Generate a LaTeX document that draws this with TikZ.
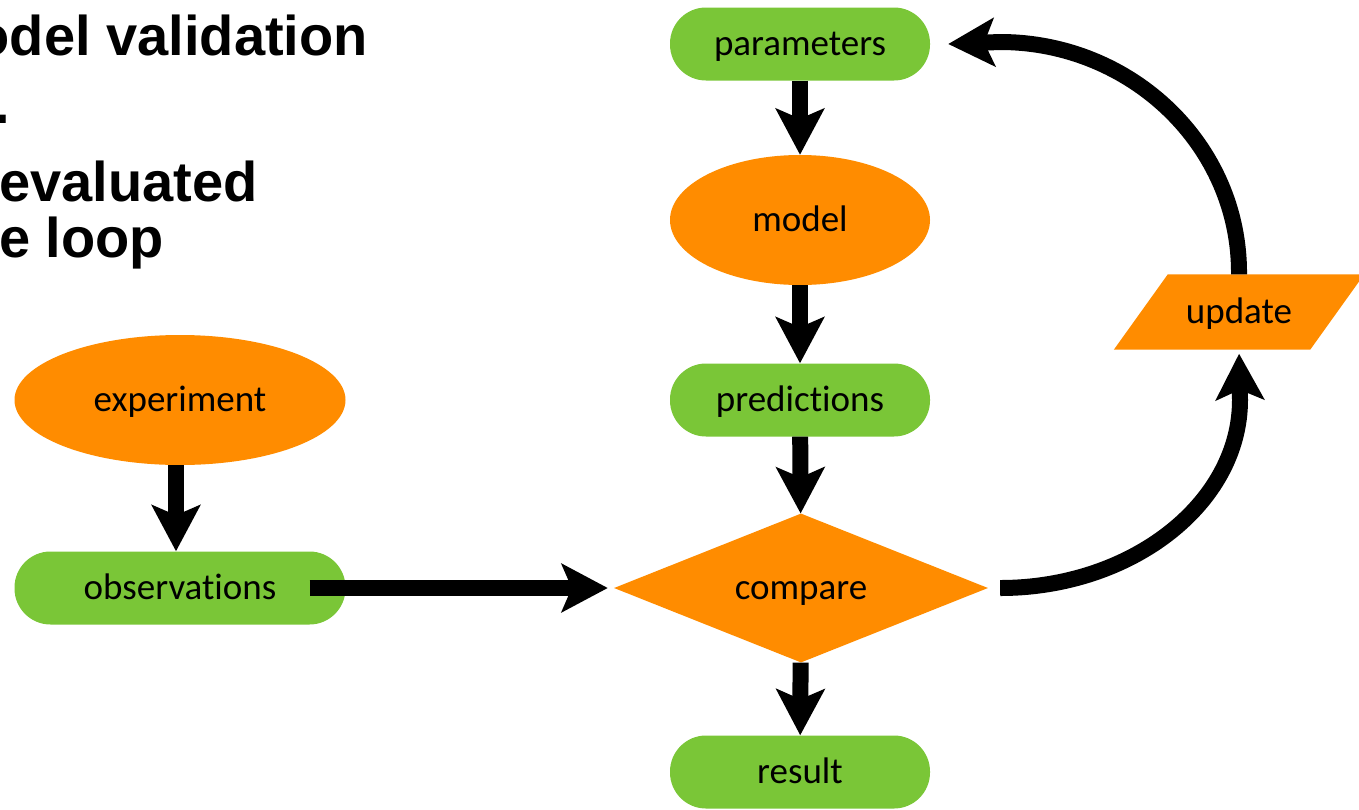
\documentclass[tikz,border=0pt]{standalone}
\usepackage{fontspec}
\setmainfont{Carlito}[RawFeature={-liga}]
\newfontfamily\titlefont{Liberation Sans}
\usetikzlibrary{shapes.geometric, shapes.misc, arrows.meta, backgrounds}
\definecolor{boxgreen}{RGB}{122,198,55}
\definecolor{boxorange}{RGB}{255,140,0}
\tikzset{
  lbl/.style={font=\fontsize{37}{44}\selectfont, text=black, text height=30pt, text depth=8pt},
  pill/.style={lbl, rectangle, rounded corners=36pt, fill=boxgreen, minimum width=260pt, minimum height=73pt, inner sep=0pt},
  oval/.style={lbl, ellipse, fill=boxorange, minimum width=260pt, minimum height=130pt, inner sep=0pt},
  decision/.style={lbl, diamond, fill=boxorange, minimum width=374pt, minimum height=149pt, aspect=2.5, inner sep=0pt},
  iobox/.style={lbl, rectangle, minimum width=196pt, minimum height=75pt, inner sep=0pt},
  flow/.style={line width=16pt, -{Stealth[length=46pt, width=48pt, inset=10pt]}},
  title/.style={font=\titlefont\bfseries\fontsize{56}{60}\selectfont, inner sep=0pt}
}
\begin{document}
\begin{tikzpicture}[x=1pt,y=-1pt]
\useasboundingbox (0,0) rectangle (1359,809);
% title text (cut at the left edge)
\node[title, anchor=base east] (t1) at (368,55) {odel validation};
\node[title, anchor=base west] (t2) at (-6,123) {.};
\node[title, anchor=base west] (t3) at (-1,201) {evaluated};
\node[title, anchor=base west] (t4) at (-1,257) {e loop};
% nodes
\node[pill] (parameters) at (800,44) {parameters};
\node[oval] (model) at (800,220) {model};
\node[pill] (predictions) at (800,400) {predictions};
\node[decision] (compare) at (801,588) {compare};
\node[pill] (result) at (800,772) {result};
\node[oval, minimum width=331pt] (experiment) at (180,400) {experiment};
\node[pill, minimum width=331pt] (observations) at (180,588) {observations};
\node[iobox] (update) at (1239,312) {update};
\begin{scope}[on background layer]
\fill[boxorange] ([xshift=27pt]update.north west) -- ([xshift=27pt]update.north east)
  -- ([xshift=-27pt]update.south east) -- ([xshift=-27pt]update.south west) -- cycle;
\end{scope}
% connectors
\draw[flow] (parameters) -- (model);
\draw[flow] (model) -- (predictions);
\draw[flow] (predictions) -- (compare);
\draw[flow] (compare) -- (result);
\draw[flow] ([xshift=-4pt]experiment.south) -- ([xshift=-4pt]observations.north);
\draw[flow] ([xshift=-36pt]observations.east) -- ([xshift=-6pt]compare.west);
\draw[flow, shorten >=4pt] ([xshift=12pt]compare.east) .. controls (1132,588) and (1240,503) .. (1240,400) -- (update.south);
\draw[flow] (update.north) .. controls (1240,146) and (1132,42) .. (1000,42) -- ([xshift=18pt]parameters.east);
\end{tikzpicture}
\end{document}
